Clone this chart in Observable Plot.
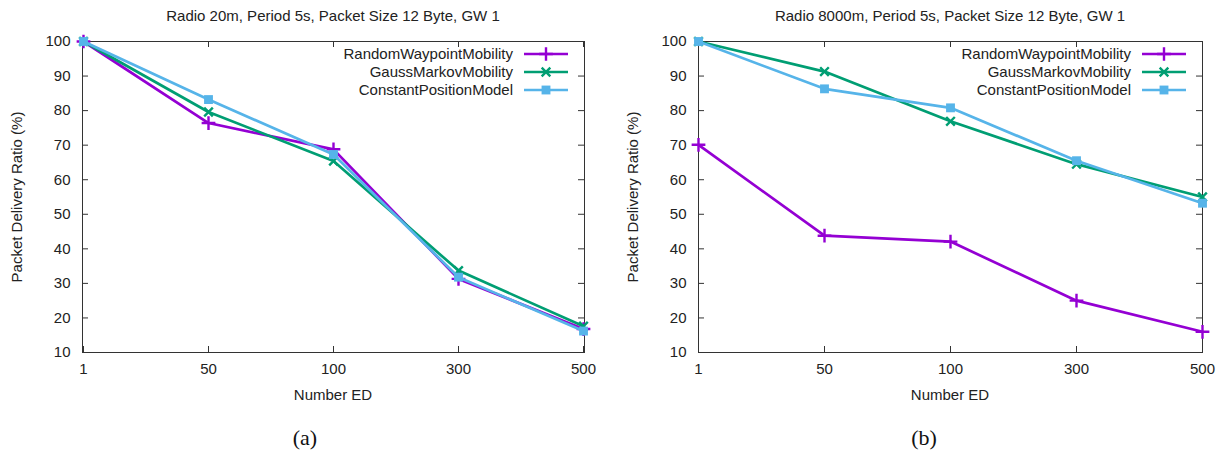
<!DOCTYPE html>
<html><head><meta charset="utf-8">
<script src="https://cdn.jsdelivr.net/npm/d3@7"></script>
<script src="https://cdn.jsdelivr.net/npm/@observablehq/plot@0.6"></script>
<style>
body{margin:0;background:#fff;}
#wrap{position:relative;width:1219px;height:454px;overflow:hidden;font-family:"Liberation Sans",Arial,sans-serif;color:#222;}
.abs{position:absolute;white-space:nowrap;font-size:15px;line-height:16px;}
.cap{position:absolute;font-family:"Liberation Serif",serif;font-size:22px;line-height:24px;text-align:center;width:60px;color:#111;}
svg.plot{position:absolute;top:0;}
</style></head><body><div id="wrap"></div>
<script>
// ---- data ----
const xLabels = ["1", "50", "100", "300", "500"];
const yTicks = [10, 20, 30, 40, 50, 60, 70, 80, 90, 100];
const seriesNames = ["RandomWaypointMobility", "GaussMarkovMobility", "ConstantPositionModel"];
const seriesColors = ["#9400d3", "#009e73", "#56b4e9"];
const titleA = "Radio 20m, Period 5s, Packet Size 12 Byte, GW 1";
const titleB = "Radio 8000m, Period 5s, Packet Size 12 Byte, GW 1";
const xTitle = "Number ED";
const yTitle = "Packet Delivery Ratio (%)";
// panel (a)
const randomA   = [100, 76.4, 68.8, 31.3, 16.8];
const gaussA    = [100, 79.6, 65.4, 33.7, 17.6];
const constantA = [100, 83.2, 67.3, 31.8, 16.2];
// panel (b)
const randomB   = [70.1, 43.8, 42.1, 25.0, 16.0];
const gaussB    = [100, 91.3, 76.9, 64.5, 55.0];
const constantB = [100, 86.3, 80.8, 65.5, 53.2];

const symbols = ["plus", "times", "square"];
const d3symbols = [d3.symbolPlus, d3.symbolTimes, d3.symbolSquare];
const symR = [4.5, 4, 5];

const wrap = document.getElementById("wrap");
const H = 454, mTop = 41, mBottom = 102;

function panel(opts) {
  const {left, width, mLeft, mRight, title, series, caption} = opts;
  const fw = width - mLeft - mRight, fh = H - mTop - mBottom;
  const rows = [];
  series.forEach((vals, si) => vals.forEach((v, i) => rows.push({x: xLabels[i], y: v, s: si})));
  const marks = [
    Plot.frame({stroke: "#333"}),
    Plot.tickX(xLabels, {x: d => d, stroke: "#333", insetTop: fh - 6}),
    Plot.tickX(xLabels, {x: d => d, stroke: "#333", insetBottom: fh - 6}),
    Plot.tickY(yTicks, {y: d => d, stroke: "#333", insetRight: fw - 6}),
    Plot.tickY(yTicks, {y: d => d, stroke: "#333", insetLeft: fw - 6}),
    Plot.axisX({tickSize: 0, tickPadding: 11, label: null}),
    Plot.axisY({ticks: yTicks, tickSize: 0, tickPadding: 12, label: null})
  ];
  series.forEach((vals, si) => {
    const d = rows.filter(r => r.s === si);
    marks.push(Plot.line(d, {x: "x", y: "y", stroke: seriesColors[si], strokeWidth: 2.7}));
    if (si === 2) marks.push(Plot.dot(d, {x: "x", y: "y", symbol: "square", fill: seriesColors[si], r: symR[si]}));
    else marks.push(Plot.dot(d, {x: "x", y: "y", symbol: symbols[si], stroke: seriesColors[si], strokeWidth: 2.4, r: symR[si]}));
  });
  const svg = Plot.plot({
    width, height: H, marginTop: mTop, marginBottom: mBottom, marginLeft: mLeft, marginRight: mRight,
    x: {type: "point", domain: xLabels, padding: 0},
    y: {domain: [10, 100]},
    style: {fontSize: "15px", fontFamily: "'Liberation Sans', Arial, sans-serif", color: "#222", background: "transparent"},
    marks
  });
  svg.classList.add("plot");
  svg.style.left = left + "px";
  wrap.appendChild(svg);

  const fx0 = left + mLeft, fx1 = left + width - mRight, cx = (fx0 + fx1) / 2;
  const t = document.createElement("div");
  t.className = "abs"; t.textContent = title;
  t.style.left = (cx - 300) + "px"; t.style.width = "600px"; t.style.textAlign = "center"; t.style.top = "8px";
  wrap.appendChild(t);

  const xl = document.createElement("div");
  xl.className = "abs"; xl.textContent = xTitle;
  xl.style.left = (cx - 100) + "px"; xl.style.width = "200px"; xl.style.textAlign = "center"; xl.style.top = "387px";
  wrap.appendChild(xl);

  const yl = document.createElement("div");
  yl.className = "abs"; yl.textContent = yTitle;
  yl.style.width = "300px"; yl.style.textAlign = "center";
  yl.style.left = (fx0 - 65 - 150) + "px"; yl.style.top = (196.5 - 8) + "px";
  yl.style.transform = "rotate(-90deg)";
  wrap.appendChild(yl);

  seriesNames.forEach((name, si) => {
    const cy = 54 + si * 18;
    const lt = document.createElement("div");
    lt.className = "abs"; lt.textContent = name;
    lt.style.left = (fx1 - 71 - 300) + "px"; lt.style.width = "300px"; lt.style.textAlign = "right";
    lt.style.top = (cy - 8) + "px";
    wrap.appendChild(lt);
    const sw = d3.create("svg").attr("width", 50).attr("height", 14)
      .style("position", "absolute").style("left", (fx1 - 63) + "px").style("top", (cy - 7) + "px");
    sw.append("line").attr("x1", 3).attr("x2", 47).attr("y1", 7).attr("y2", 7)
      .attr("stroke", seriesColors[si]).attr("stroke-width", 2.7);
    const sz = symR[si] * symR[si] * Math.PI;
    const p = sw.append("path").attr("transform", "translate(25,7)").attr("d", d3.symbol(d3symbols[si], sz)());
    if (si === 2) p.attr("fill", seriesColors[si]);
    else p.attr("fill", "none").attr("stroke", seriesColors[si]).attr("stroke-width", 2.4);
    wrap.appendChild(sw.node());
  });

  const c = document.createElement("div");
  c.className = "cap"; c.textContent = caption;
  c.style.left = (opts.capX - 30) + "px"; c.style.top = (438 - 12) + "px";
  wrap.appendChild(c);
}

panel({left: 0, width: 609, mLeft: 82, mRight: 25, title: titleA, series: [randomA, gaussA, constantA], caption: "(a)", capX: 305});
panel({left: 609, width: 610, mLeft: 89, mRight: 17, title: titleB, series: [randomB, gaussB, constantB], caption: "(b)", capX: 924});
</script></body></html>
